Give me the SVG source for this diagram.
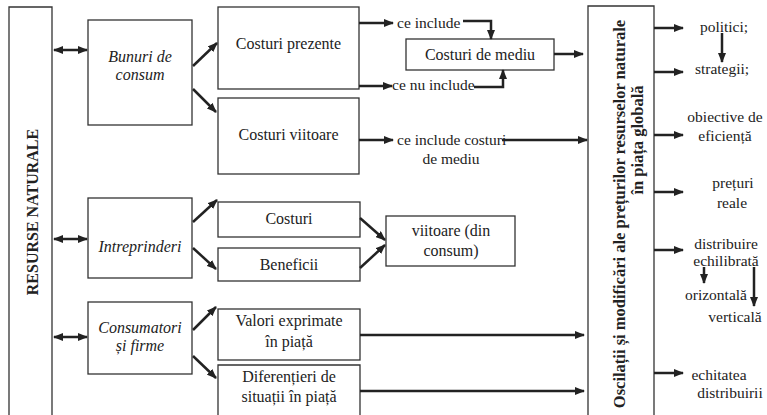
<svg xmlns="http://www.w3.org/2000/svg" width="767" height="415" viewBox="0 0 767 415" font-family="'Liberation Serif', 'Times New Roman', serif">
<defs>
<style>
text{font-family:'Liberation Serif','Times New Roman',serif}
.bx{fill:#fff;stroke:#333;stroke-width:1.3}
.t{font-size:16px;fill:#222;text-anchor:middle}
.ts{font-size:15.5px;fill:#222}
.i{font-style:italic}
.b{font-weight:bold}
.c{fill:none;stroke:#222;stroke-width:2.5}
.a{marker-end:url(#ah)}
.d{marker-start:url(#ah);marker-end:url(#ah)}
</style>
<marker id="ah" markerUnits="userSpaceOnUse" markerWidth="10" markerHeight="8" refX="9" refY="4" orient="auto-start-reverse">
<path d="M0,0 L10,4 L0,8 z" fill="#222"/>
</marker>
</defs>
<rect width="767" height="415" fill="#fff"/>

<g id="resurse">
<path class="bx" d="M9,420 V7 H52 V420"/>
<text class="t b" transform="translate(38,212) rotate(-90)">RESURSE NATURALE</text>
</g>

<g id="oscilatii">
<path class="bx" d="M588,420 V6 H654 V420"/>
<text class="t b" style="font-size:16.5px" transform="translate(625,214) rotate(-90)">Oscilații și modificări ale prețurilor resurselor naturale</text>
<text class="t b" style="font-size:16.5px" transform="translate(643,140) rotate(-90)">în piața globală</text>
</g>

<g id="bunuri">
<rect class="bx" x="88" y="20" width="104" height="105"/>
<text class="t i" x="140" y="62">Bunuri de</text>
<text class="t i" x="140" y="80">consum</text>
</g>
<g id="intreprinderi">
<rect class="bx" x="88" y="198" width="104" height="80"/>
<text class="t i" x="140" y="252">Intreprinderi</text>
</g>
<g id="consumatori">
<rect class="bx" x="88" y="302" width="104" height="72"/>
<text class="t i" x="140" y="333">Consumatori</text>
<text class="t i" x="140" y="351">și firme</text>
</g>

<g id="costuri-prezente">
<rect class="bx" x="218" y="7" width="141" height="82"/>
<text class="t" x="288.5" y="49">Costuri prezente</text>
</g>
<g id="costuri-viitoare">
<rect class="bx" x="218" y="98" width="141" height="76"/>
<text class="t" x="288.5" y="140">Costuri viitoare</text>
</g>
<g id="costuri">
<rect class="bx" x="218" y="202" width="142" height="35"/>
<text class="t" x="289" y="224">Costuri</text>
</g>
<g id="beneficii">
<rect class="bx" x="218" y="248" width="142" height="33"/>
<text class="t" x="289" y="270">Beneficii</text>
</g>
<g id="valori">
<rect class="bx" x="218" y="309" width="142" height="51"/>
<text class="t" x="289" y="326">Valori exprimate</text>
<text class="t" x="289" y="347">în piață</text>
</g>
<g id="diferentieri">
<path class="bx" d="M218,420 V365 H360 V420"/>
<text class="t" x="289" y="382">Diferențieri de</text>
<text class="t" x="289" y="402">situații în piață</text>
</g>

<g id="costuri-mediu">
<rect class="bx" x="406" y="39" width="148" height="31"/>
<text class="t" x="480" y="60">Costuri de mediu</text>
</g>
<g id="viitoare-din-consum">
<rect class="bx" x="386" y="216" width="129" height="50"/>
<text class="t" x="451" y="236">viitoare (din</text>
<text class="t" x="451" y="256">consum)</text>
</g>

<g id="labels">
<text class="ts" x="397" y="28">ce include</text>
<text class="ts" x="392" y="90">ce nu include</text>
<text class="ts" x="397" y="145">ce include costuri</text>
<text class="ts" x="451" y="164" text-anchor="middle">de mediu</text>
<text class="ts" x="724" y="32" text-anchor="middle">politici;</text>
<text class="ts" x="722" y="74" text-anchor="middle">strategii;</text>
<text class="ts" x="725" y="122" text-anchor="middle">obiective de</text>
<text class="ts" x="725" y="141" text-anchor="middle">eficiență</text>
<text class="ts" x="733" y="188" text-anchor="middle">prețuri</text>
<text class="ts" x="732" y="208" text-anchor="middle">reale</text>
<text class="ts" x="726" y="249" text-anchor="middle">distribuire</text>
<text class="ts" x="726" y="266" text-anchor="middle">echilibrată</text>
<text class="ts" x="716" y="300" text-anchor="middle">orizontală</text>
<text class="ts" x="735" y="322" text-anchor="middle">verticală</text>
<text class="ts" x="719" y="380" text-anchor="middle">echitatea</text>
<text class="ts" x="730" y="398" text-anchor="middle">distribuirii</text>
</g>

<g id="connectors">
<line class="c d" x1="54" y1="50" x2="87" y2="50"/>
<line class="c d" x1="54" y1="239" x2="87" y2="239"/>
<line class="c d" x1="54" y1="337" x2="87" y2="337"/>

<line class="c a" x1="193" y1="66" x2="217" y2="43"/>
<line class="c a" x1="193" y1="89" x2="216" y2="112"/>
<line class="c a" x1="193" y1="222" x2="217" y2="200"/>
<line class="c a" x1="193" y1="248" x2="216" y2="269"/>
<line class="c a" x1="193" y1="330" x2="216" y2="307"/>
<line class="c a" x1="193" y1="356" x2="216" y2="378"/>

<line class="c a" x1="359" y1="23" x2="393" y2="23"/>
<line class="c a" x1="359" y1="86" x2="392" y2="86"/>
<path class="c a" d="M463,21 H491 V39"/>
<path class="c a" d="M474,87 H503 V70"/>
<line class="c a" x1="554" y1="54" x2="583" y2="54"/>
<line class="c a" x1="359" y1="140" x2="393" y2="140"/>
<line class="c a" x1="502" y1="140" x2="587" y2="140"/>

<line class="c a" x1="360" y1="218" x2="385" y2="240"/>
<line class="c a" x1="360" y1="268" x2="385" y2="245"/>

<line class="c a" x1="360" y1="335" x2="584" y2="335"/>
<line class="c a" x1="360" y1="391" x2="584" y2="391"/>

<line class="c a" x1="654" y1="28" x2="683" y2="28"/>
<line class="c a" x1="654" y1="72" x2="683" y2="72"/>
<line class="c a" x1="654" y1="135" x2="683" y2="135"/>
<line class="c a" x1="654" y1="192" x2="683" y2="192"/>
<line class="c a" x1="654" y1="250" x2="683" y2="250"/>
<line class="c a" x1="654" y1="373" x2="683" y2="373"/>

<line class="c a" x1="722" y1="33" x2="722" y2="62"/>
<line class="c a" x1="704" y1="267" x2="704" y2="283"/>
<line class="c a" x1="754" y1="267" x2="754" y2="306"/>
</g>
</svg>
